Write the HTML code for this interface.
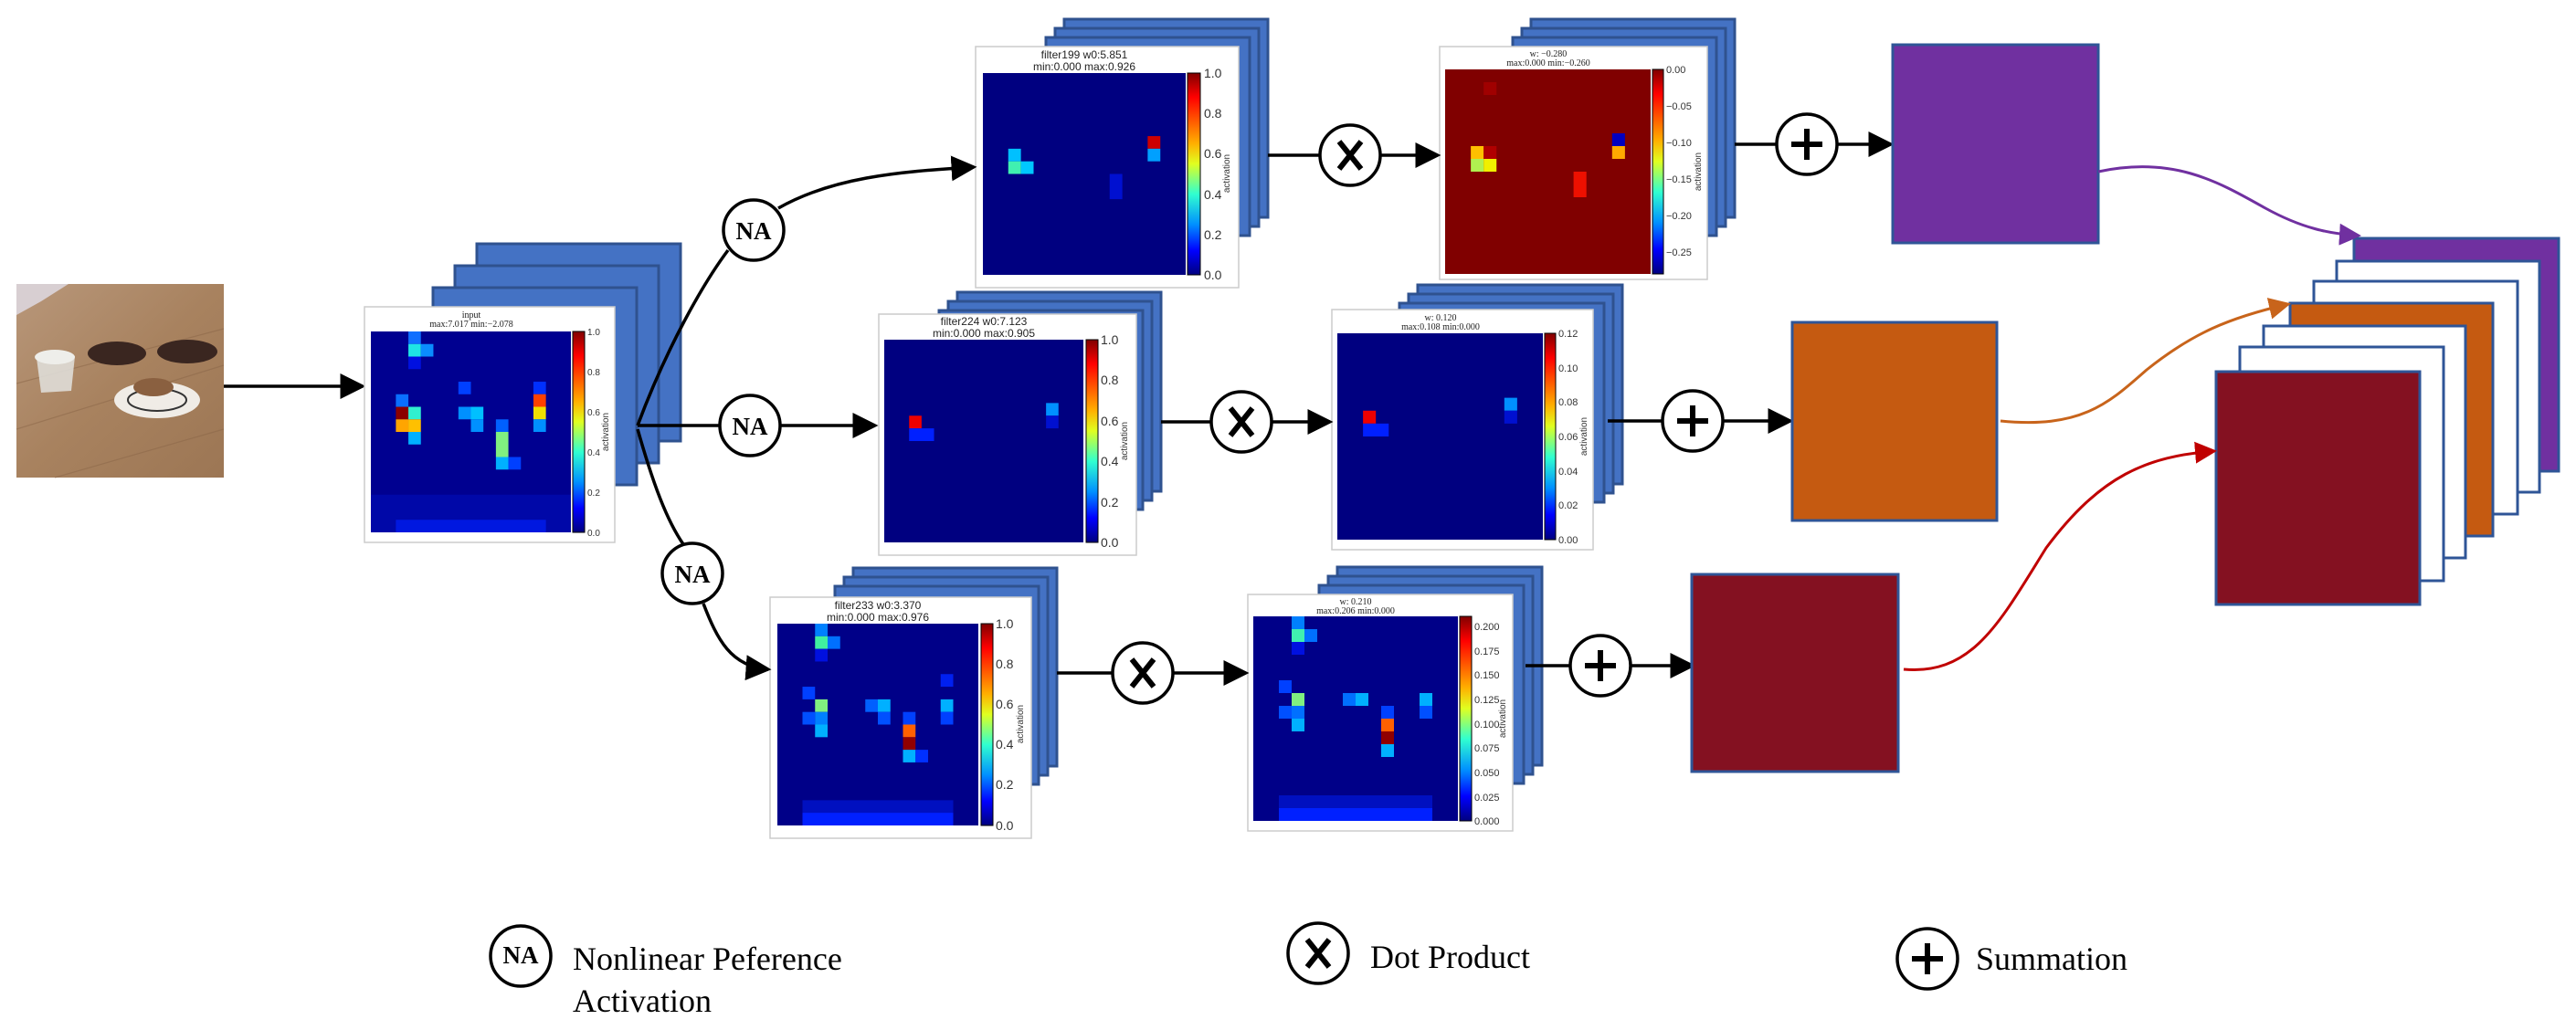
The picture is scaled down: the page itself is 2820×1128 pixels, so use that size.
<!DOCTYPE html>
<html><head><meta charset="utf-8"><style>
html,body{margin:0;padding:0;background:#fff;}
svg{display:block;}
.ttl{font-family:"Liberation Sans",sans-serif;font-size:12px;fill:#222;text-anchor:middle;}
.ttls{font-family:"Liberation Serif",serif;font-size:10px;fill:#222;text-anchor:middle;}
.tk{font-family:"Liberation Sans",sans-serif;font-size:14px;fill:#333;}
.act{font-family:"Liberation Sans",sans-serif;font-size:10px;fill:#333;}
.na{font-family:"Liberation Serif",serif;font-size:27px;font-weight:bold;fill:#000;text-anchor:middle;}
.lg{font-family:"Liberation Serif",serif;font-size:36px;fill:#000;}
.stk{fill:#4472c4;stroke:#2f528f;stroke-width:3;}
.card{fill:#fff;stroke:#ccc;stroke-width:1.5;}
.c{fill:#fff;stroke:#000;stroke-width:3.5;}
.ln{stroke:#000;stroke-width:3.5;fill:none;}
</style></head><body>
<svg width="2820" height="1128" viewBox="0 0 2820 1128" xmlns="http://www.w3.org/2000/svg">
<defs>
<linearGradient id="jet" x1="0" y1="0" x2="0" y2="1">
<stop offset="0" stop-color="#800000"/><stop offset="0.12" stop-color="#ff0000"/><stop offset="0.35" stop-color="#ffb000"/><stop offset="0.45" stop-color="#e0ff20"/><stop offset="0.6" stop-color="#30ffd0"/><stop offset="0.75" stop-color="#0090ff"/><stop offset="0.88" stop-color="#0000ff"/><stop offset="1" stop-color="#00007f"/>
</linearGradient>
<linearGradient id="wood" x1="0" y1="0" x2="1" y2="1">
<stop offset="0" stop-color="#b8977a"/><stop offset="0.5" stop-color="#a8825f"/><stop offset="1" stop-color="#9c7654"/>
</linearGradient>
<marker id="ak" markerWidth="8" markerHeight="8" refX="7" refY="4" orient="auto" markerUnits="strokeWidth"><path d="M0,0 L8,4 L0,8 z" fill="#000"/></marker>
<marker id="ap" markerWidth="8" markerHeight="8" refX="7" refY="4" orient="auto" markerUnits="strokeWidth"><path d="M0,0 L8,4 L0,8 z" fill="#7030a0"/></marker>
<marker id="ao" markerWidth="8" markerHeight="8" refX="7" refY="4" orient="auto" markerUnits="strokeWidth"><path d="M0,0 L8,4 L0,8 z" fill="#c8641b"/></marker>
<marker id="ar" markerWidth="8" markerHeight="8" refX="7" refY="4" orient="auto" markerUnits="strokeWidth"><path d="M0,0 L8,4 L0,8 z" fill="#c00000"/></marker>
</defs>

<!-- photo -->
<rect x="18" y="311" width="227" height="212" fill="url(#wood)"/>
<path d="M18,311 L75,311 L45,330 L18,345 z" fill="#d8cfd2"/>
<path d="M18,470 L245,400 M18,420 L245,360 M60,523 L245,470" stroke="#8a6648" stroke-width="1.2" opacity="0.5"/>
<path d="M40,392 L82,390 L78,428 L45,430 z" fill="#e2e2de" opacity="0.85"/>
<ellipse cx="60" cy="391" rx="22" ry="8" fill="#eeeeea"/>
<ellipse cx="128" cy="387" rx="32" ry="13" fill="#3a2620"/>
<ellipse cx="205" cy="385" rx="33" ry="13" fill="#3a2620"/>
<ellipse cx="172" cy="438" rx="47" ry="20" fill="#f0ece6"/>
<ellipse cx="172" cy="438" rx="32" ry="12" fill="none" stroke="#333" stroke-width="2"/>
<ellipse cx="168" cy="424" rx="22" ry="10" fill="#8a6040"/>

<line x1="245" y1="423" x2="397" y2="423" class="ln" marker-end="url(#ak)"/>

<!-- stacks -->
<g class="stk">
<rect x="522" y="267" width="223" height="216"/><rect x="498" y="291" width="223" height="216"/><rect x="474" y="315" width="223" height="216"/>
<rect x="1165" y="21" width="223" height="217"/><rect x="1155" y="31" width="223" height="217"/><rect x="1145" y="41" width="223" height="217"/>
<rect x="1676" y="21" width="223" height="217"/><rect x="1666" y="31" width="223" height="217"/><rect x="1656" y="41" width="223" height="217"/>
<rect x="1048" y="320" width="223" height="218"/><rect x="1038" y="330" width="223" height="218"/><rect x="1028" y="340" width="223" height="218"/>
<rect x="1552" y="312" width="224" height="218"/><rect x="1542" y="322" width="224" height="218"/><rect x="1532" y="332" width="224" height="218"/>
<rect x="934" y="622" width="223" height="217"/><rect x="924" y="632" width="223" height="217"/><rect x="914" y="642" width="223" height="217"/>
<rect x="1464" y="621" width="224" height="217"/><rect x="1454" y="631" width="224" height="217"/><rect x="1444" y="641" width="224" height="217"/>
</g>

<!-- cards -->
<rect class="card" x="399" y="336" width="274" height="258"/>
<rect class="card" x="1068" y="51" width="288" height="264"/>
<rect class="card" x="1576" y="51" width="293" height="255"/>
<rect class="card" x="962" y="344" width="282" height="264"/>
<rect class="card" x="1458" y="339" width="286" height="263"/>
<rect class="card" x="843" y="654" width="286" height="264"/>
<rect class="card" x="1366" y="651" width="290" height="259"/>

<!-- P0 heatmap -->
<svg x="406" y="363" width="219" height="220" viewBox="0 0 16 16" preserveAspectRatio="none">
<rect width="16" height="16" fill="#000090"/>
<rect x="0" y="13" width="16" height="3" fill="#0008a8"/><rect x="2" y="15" width="12" height="1" fill="#0018e0"/>
<rect x="3" y="0" width="1" height="1" fill="#0f6fff"/><rect x="3" y="1" width="1" height="1" fill="#1ee5e5"/><rect x="4" y="1" width="1" height="1" fill="#0a8cff"/><rect x="3" y="2" width="1" height="1" fill="#0010e0"/>
<rect x="2" y="5" width="1" height="1" fill="#0a6fff"/><rect x="2" y="6" width="1" height="1" fill="#8b0000"/><rect x="3" y="6" width="1" height="1" fill="#30f0d0"/><rect x="2" y="7" width="1" height="1" fill="#ffa500"/><rect x="3" y="7" width="1" height="1" fill="#ffc000"/><rect x="3" y="8" width="1" height="1" fill="#00b0ff"/>
<rect x="7" y="4" width="1" height="1" fill="#0040ff"/><rect x="7" y="6" width="1" height="1" fill="#0090ff"/><rect x="8" y="6" width="1" height="1" fill="#00c0ff"/><rect x="8" y="7" width="1" height="1" fill="#0090ff"/>
<rect x="10" y="7" width="1" height="1" fill="#0060ff"/><rect x="10" y="8" width="1" height="2" fill="#80f080"/><rect x="10" y="10" width="1" height="1" fill="#00b0ff"/><rect x="11" y="10" width="1" height="1" fill="#0040ff"/>
<rect x="13" y="4" width="1" height="1" fill="#0030ff"/><rect x="13" y="5" width="1" height="1" fill="#ff4000"/><rect x="13" y="6" width="1" height="1" fill="#f0e000"/><rect x="13" y="7" width="1" height="1" fill="#0090ff"/>
</svg>
<!-- P1 -->
<svg x="1076" y="80" width="222" height="221" viewBox="0 0 16 16" preserveAspectRatio="none">
<rect width="16" height="16" fill="#000080"/>
<rect x="2" y="6" width="1" height="1" fill="#00c0ff"/><rect x="2" y="7" width="1" height="1" fill="#40f0b0"/><rect x="3" y="7" width="1" height="1" fill="#00c8ff"/>
<rect x="13" y="5" width="1" height="1" fill="#cc0000"/><rect x="13" y="6" width="1" height="1" fill="#00a0ff"/><rect x="10" y="8" width="1" height="2" fill="#0010d0"/>
</svg>
<!-- P2 -->
<svg x="1582" y="76" width="225" height="224" viewBox="0 0 16 16" preserveAspectRatio="none">
<rect width="16" height="16" fill="#800000"/>
<rect x="3" y="1" width="1" height="1" fill="#a00000"/><rect x="2" y="6" width="1" height="1" fill="#ffc000"/><rect x="3" y="6" width="1" height="1" fill="#b00000"/><rect x="2" y="7" width="1" height="1" fill="#b0f050"/><rect x="3" y="7" width="1" height="1" fill="#f0f000"/>
<rect x="13" y="5" width="1" height="1" fill="#0000c0"/><rect x="13" y="6" width="1" height="1" fill="#ffaa00"/><rect x="10" y="8" width="1" height="2" fill="#ee1000"/>
</svg>
<!-- P3 -->
<svg x="968" y="372" width="218" height="222" viewBox="0 0 16 16" preserveAspectRatio="none">
<rect width="16" height="16" fill="#000080"/>
<rect x="2" y="6" width="1" height="1" fill="#ee0000"/><rect x="2" y="7" width="2" height="1" fill="#0020ff"/><rect x="13" y="5" width="1" height="1" fill="#0090ff"/><rect x="13" y="6" width="1" height="1" fill="#0010d0"/>
</svg>
<!-- P4 -->
<svg x="1464" y="365" width="225" height="226" viewBox="0 0 16 16" preserveAspectRatio="none">
<rect width="16" height="16" fill="#000080"/>
<rect x="2" y="6" width="1" height="1" fill="#ee0000"/><rect x="2" y="7" width="2" height="1" fill="#0020ff"/><rect x="13" y="5" width="1" height="1" fill="#0090ff"/><rect x="13" y="6" width="1" height="1" fill="#0010d0"/>
</svg>
<!-- P5 -->
<svg x="851" y="683" width="220" height="221" viewBox="0 0 16 16" preserveAspectRatio="none">
<rect width="16" height="16" fill="#000088"/>
<rect x="2" y="14" width="12" height="2" fill="#0010c0"/><rect x="2" y="15" width="12" height="1" fill="#0020ff"/>
<rect x="3" y="0" width="1" height="1" fill="#0080ff"/><rect x="3" y="1" width="1" height="1" fill="#40f0a0"/><rect x="4" y="1" width="1" height="1" fill="#0070ff"/><rect x="3" y="2" width="1" height="1" fill="#0010e0"/>
<rect x="2" y="5" width="1" height="1" fill="#0040ff"/><rect x="3" y="6" width="1" height="1" fill="#80f080"/><rect x="2" y="7" width="1" height="1" fill="#0050ff"/><rect x="3" y="7" width="1" height="1" fill="#0080ff"/><rect x="3" y="8" width="1" height="1" fill="#00b0ff"/>
<rect x="7" y="6" width="1" height="1" fill="#0060ff"/><rect x="8" y="6" width="1" height="1" fill="#00b0ff"/><rect x="8" y="7" width="1" height="1" fill="#0050ff"/><rect x="13" y="4" width="1" height="1" fill="#0020f0"/><rect x="13" y="6" width="1" height="1" fill="#00b0ff"/><rect x="13" y="7" width="1" height="1" fill="#0040ff"/>
<rect x="10" y="7" width="1" height="1" fill="#0040ff"/><rect x="10" y="8" width="1" height="1" fill="#ff6000"/><rect x="10" y="9" width="1" height="1" fill="#900000"/><rect x="10" y="10" width="1" height="1" fill="#00b0ff"/><rect x="11" y="10" width="1" height="1" fill="#0030ff"/>
</svg>
<!-- P6 -->
<svg x="1372" y="675" width="224" height="224" viewBox="0 0 16 16" preserveAspectRatio="none">
<rect width="16" height="16" fill="#000088"/>
<rect x="2" y="14" width="12" height="2" fill="#0010c0"/><rect x="2" y="15" width="12" height="1" fill="#0020ff"/>
<rect x="3" y="0" width="1" height="1" fill="#0080ff"/><rect x="3" y="1" width="1" height="1" fill="#40f0b0"/><rect x="4" y="1" width="1" height="1" fill="#0070ff"/><rect x="3" y="2" width="1" height="1" fill="#0010e0"/>
<rect x="2" y="5" width="1" height="1" fill="#0040ff"/><rect x="3" y="6" width="1" height="1" fill="#80f080"/><rect x="2" y="7" width="1" height="1" fill="#0050ff"/><rect x="3" y="7" width="1" height="1" fill="#0070ff"/><rect x="3" y="8" width="1" height="1" fill="#00b0ff"/>
<rect x="7" y="6" width="1" height="1" fill="#0070ff"/><rect x="8" y="6" width="1" height="1" fill="#00b0ff"/><rect x="13" y="6" width="1" height="1" fill="#00b0ff"/><rect x="13" y="7" width="1" height="1" fill="#0050ff"/>
<rect x="10" y="7" width="1" height="1" fill="#0040ff"/><rect x="10" y="8" width="1" height="1" fill="#ff6000"/><rect x="10" y="9" width="1" height="1" fill="#900000"/><rect x="10" y="10" width="1" height="1" fill="#00b0ff"/>
</svg>

<!-- colorbars -->
<g stroke="#000" stroke-width="1">
<rect x="627" y="363" width="13" height="220" fill="url(#jet)"/>
<rect x="1300" y="80" width="14" height="221" fill="url(#jet)"/>
<rect x="1809" y="76" width="12" height="224" fill="url(#jet)"/>
<rect x="1189" y="372" width="13" height="222" fill="url(#jet)"/>
<rect x="1691" y="365" width="12" height="226" fill="url(#jet)"/>
<rect x="1074" y="683" width="13" height="221" fill="url(#jet)"/>
<rect x="1598" y="675" width="13" height="224" fill="url(#jet)"/>
</g>

<!-- titles -->
<text class="ttls" x="516" y="348">input</text><text class="ttls" x="516" y="358">max:7.017 min:−2.078</text>
<text class="ttl" x="1187" y="64">filter199 w0:5.851</text><text class="ttl" x="1187" y="77">min:0.000 max:0.926</text>
<text class="ttls" x="1695" y="62">w: −0.280</text><text class="ttls" x="1695" y="72">max:0.000 min:−0.260</text>
<text class="ttl" x="1077" y="356">filter224 w0:7.123</text><text class="ttl" x="1077" y="369">min:0.000 max:0.905</text>
<text class="ttls" x="1577" y="351">w: 0.120</text><text class="ttls" x="1577" y="361">max:0.108 min:0.000</text>
<text class="ttl" x="961" y="667">filter233 w0:3.370</text><text class="ttl" x="961" y="680">min:0.000 max:0.976</text>
<text class="ttls" x="1484" y="662">w: 0.210</text><text class="ttls" x="1484" y="672">max:0.206 min:0.000</text>

<!-- ticks -->
<g class="tk">
<g font-size="10"><text x="643" y="367">1.0</text><text x="643" y="411">0.8</text><text x="643" y="455">0.6</text><text x="643" y="499">0.4</text><text x="643" y="543">0.2</text><text x="643" y="587">0.0</text></g>
<text x="1318" y="85">1.0</text><text x="1318" y="129">0.8</text><text x="1318" y="173">0.6</text><text x="1318" y="218">0.4</text><text x="1318" y="262">0.2</text><text x="1318" y="306">0.0</text>
<g font-size="11"><text x="1824" y="80">0.00</text><text x="1824" y="120">−0.05</text><text x="1824" y="160">−0.10</text><text x="1824" y="200">−0.15</text><text x="1824" y="240">−0.20</text><text x="1824" y="280">−0.25</text></g>
<text x="1205" y="377">1.0</text><text x="1205" y="421">0.8</text><text x="1205" y="466">0.6</text><text x="1205" y="510">0.4</text><text x="1205" y="555">0.2</text><text x="1205" y="599">0.0</text>
<g font-size="11"><text x="1706" y="369">0.12</text><text x="1706" y="407">0.10</text><text x="1706" y="444">0.08</text><text x="1706" y="482">0.06</text><text x="1706" y="520">0.04</text><text x="1706" y="557">0.02</text><text x="1706" y="595">0.00</text></g>
<text x="1090" y="688">1.0</text><text x="1090" y="732">0.8</text><text x="1090" y="776">0.6</text><text x="1090" y="820">0.4</text><text x="1090" y="864">0.2</text><text x="1090" y="909">0.0</text>
<g font-size="11"><text x="1614" y="690">0.200</text><text x="1614" y="717">0.175</text><text x="1614" y="743">0.150</text><text x="1614" y="770">0.125</text><text x="1614" y="797">0.100</text><text x="1614" y="823">0.075</text><text x="1614" y="850">0.050</text><text x="1614" y="877">0.025</text><text x="1614" y="903">0.000</text></g>
</g>
<g class="act">
<text transform="translate(666,473) rotate(-90)" text-anchor="middle">activation</text>
<text transform="translate(1346,190) rotate(-90)" text-anchor="middle">activation</text>
<text transform="translate(1862,188) rotate(-90)" text-anchor="middle">activation</text>
<text transform="translate(1234,483) rotate(-90)" text-anchor="middle">activation</text>
<text transform="translate(1737,478) rotate(-90)" text-anchor="middle">activation</text>
<text transform="translate(1120,793) rotate(-90)" text-anchor="middle">activation</text>
<text transform="translate(1648,787) rotate(-90)" text-anchor="middle">activation</text>
</g>

<!-- branch connectors -->
<path class="ln" d="M698,466 C730,380 770,310 797,274"/>
<path class="ln" d="M852,228 C910,195 980,188 1066,183" marker-end="url(#ak)"/>
<line class="ln" x1="698" y1="466" x2="788" y2="466"/>
<line class="ln" x1="854" y1="466" x2="958" y2="466" marker-end="url(#ak)"/>
<path class="ln" d="M698,470 C715,530 730,570 748,596"/>
<path class="ln" d="M770,661 C785,700 800,730 841,733" marker-end="url(#ak)"/>
<circle class="c" cx="825" cy="252" r="33"/><text class="na" x="825" y="262">NA</text>
<circle class="c" cx="821" cy="466" r="33"/><text class="na" x="821" y="476">NA</text>
<circle class="c" cx="758" cy="628" r="33"/><text class="na" x="758" y="638">NA</text>

<!-- row connectors -->
<line class="ln" x1="1388" y1="170" x2="1445" y2="170"/><line class="ln" x1="1511" y1="170" x2="1574" y2="170" marker-end="url(#ak)"/>
<line class="ln" x1="1899" y1="158" x2="1945" y2="158"/><line class="ln" x1="2011" y1="158" x2="2070" y2="158" marker-end="url(#ak)"/>
<line class="ln" x1="1271" y1="462" x2="1326" y2="462"/><line class="ln" x1="1392" y1="462" x2="1456" y2="462" marker-end="url(#ak)"/>
<line class="ln" x1="1760" y1="461" x2="1820" y2="461"/><line class="ln" x1="1886" y1="461" x2="1960" y2="461" marker-end="url(#ak)"/>
<line class="ln" x1="1157" y1="737" x2="1218" y2="737"/><line class="ln" x1="1284" y1="737" x2="1364" y2="737" marker-end="url(#ak)"/>
<line class="ln" x1="1670" y1="729" x2="1719" y2="729"/><line class="ln" x1="1785" y1="729" x2="1853" y2="729" marker-end="url(#ak)"/>

<g>
<circle class="c" cx="1478" cy="170" r="33"/><path d="M1466,155 L1490,185 M1490,155 L1466,185" stroke="#000" stroke-width="6"/>
<circle class="c" cx="1359" cy="462" r="33"/><path d="M1347,447 L1371,477 M1371,447 L1347,477" stroke="#000" stroke-width="6"/>
<circle class="c" cx="1251" cy="737" r="33"/><path d="M1239,722 L1263,752 M1263,722 L1239,752" stroke="#000" stroke-width="6"/>
<circle class="c" cx="1978" cy="158" r="33"/><path d="M1978,141 V175 M1961,158 H1995" stroke="#000" stroke-width="6"/>
<circle class="c" cx="1853" cy="461" r="33"/><path d="M1853,444 V478 M1836,461 H1870" stroke="#000" stroke-width="6"/>
<circle class="c" cx="1752" cy="729" r="33"/><path d="M1752,712 V746 M1735,729 H1769" stroke="#000" stroke-width="6"/>
</g>

<!-- output boxes -->
<g stroke="#2f5597" stroke-width="3">
<rect x="2072" y="49" width="225" height="217" fill="#7030a0"/>
<rect x="1962" y="353" width="224" height="217" fill="#c55a11"/>
<rect x="1852" y="629" width="226" height="216" fill="#841121"/>
<rect x="2577" y="261" width="224" height="255" fill="#7030a0"/>
<rect x="2558" y="286" width="222" height="253" fill="#fff"/>
<rect x="2533" y="308" width="223" height="255" fill="#fff"/>
<rect x="2507" y="332" width="222" height="255" fill="#c55a11"/>
<rect x="2478" y="357" width="221" height="254" fill="#fff"/>
<rect x="2452" y="380" width="223" height="256" fill="#fff"/>
<rect x="2426" y="407" width="223" height="255" fill="#841121"/>
</g>
<path d="M2297,188 C2380,170 2430,200 2480,228 C2520,250 2550,256 2582,258" stroke="#7030a0" stroke-width="3" fill="none" marker-end="url(#ap)"/>
<path d="M2190,461 C2280,470 2310,440 2350,405 C2400,365 2440,348 2505,333" stroke="#c8641b" stroke-width="3" fill="none" marker-end="url(#ao)"/>
<path d="M2084,733 C2160,740 2190,680 2240,600 C2300,520 2350,500 2424,494" stroke="#c00000" stroke-width="3" fill="none" marker-end="url(#ar)"/>

<!-- legend -->
<circle class="c" cx="570" cy="1047" r="33"/><text class="na" x="570" y="1055" font-size="20">NA</text>
<text class="lg" x="627" y="1062">Nonlinear Peference</text>
<text class="lg" x="627" y="1108">Activation</text>
<circle class="c" cx="1443" cy="1044" r="33"/><path d="M1431,1029 L1455,1059 M1455,1029 L1431,1059" stroke="#000" stroke-width="6"/>
<text class="lg" x="1500" y="1060">Dot Product</text>
<circle class="c" cx="2110" cy="1050" r="33"/><path d="M2110,1033 V1067 M2093,1050 H2127" stroke="#000" stroke-width="6"/>
<text class="lg" x="2163" y="1062">Summation</text>
</svg>
</body></html>
